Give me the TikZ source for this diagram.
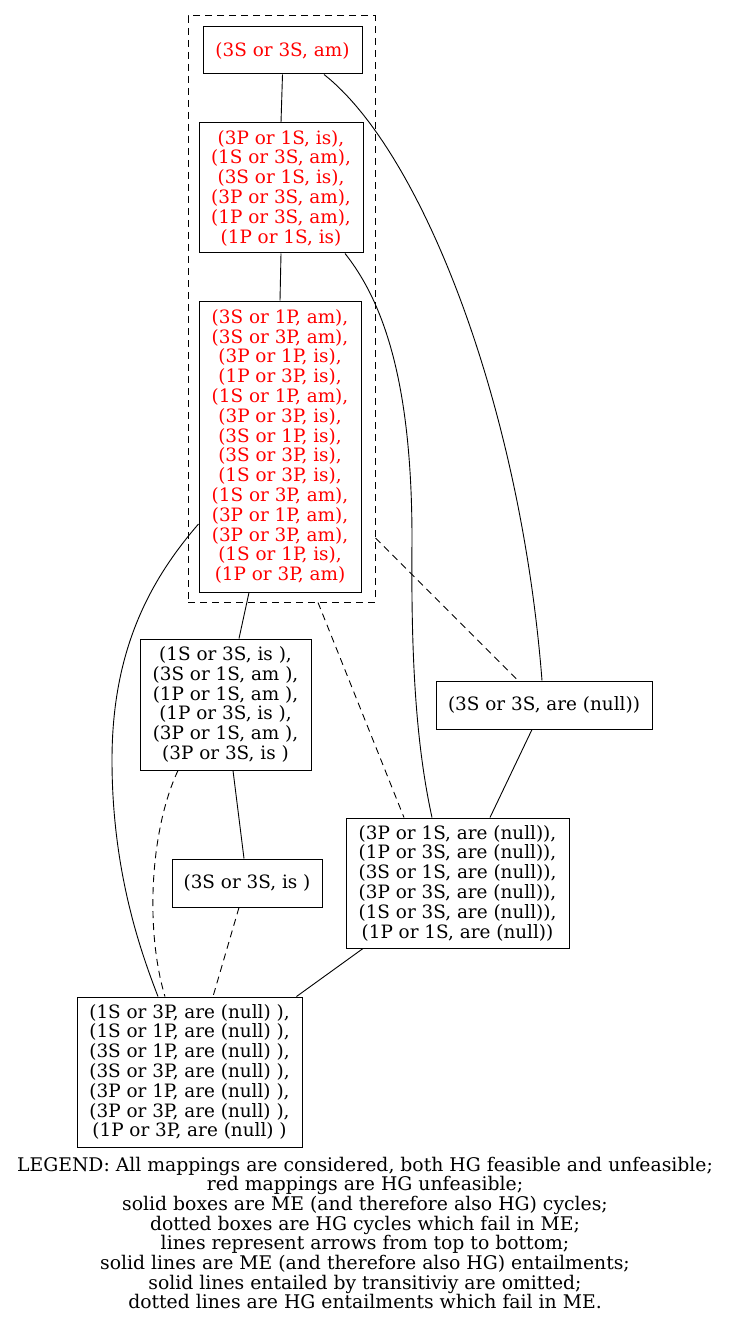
\documentclass[tikz,border=0pt]{standalone}
\usepackage{fontspec}
\setmainfont{DejaVu Serif}
\begin{document}
\begin{tikzpicture}[x=1pt,y=-1pt,
  txt/.style={font=\fontsize{18.4}{19.8}\selectfont},
  box/.style={txt, draw, line width=1pt, inner sep=0pt, align=center},
  redbox/.style={box, text=red},
  edge/.style={line width=0.9pt},
  dedge/.style={edge, dash pattern=on 7pt off 5pt}]
\useasboundingbox (0,0) rectangle (729,1324);
\node[draw, dash pattern=on 7pt off 5pt, line width=1pt, minimum width=187pt, minimum height=586pt, inner sep=0pt] (cl) at (281.5,309) {};
\node[redbox, minimum width=159pt, minimum height=47pt] (b1) at (282.5,50.5) {(3S or 3S, am)};
\node[redbox, minimum width=164pt, minimum height=130pt] (b2) at (281,188) {(3P or 1S, is),\\(1S or 3S, am),\\(3S or 1S, is),\\(3P or 3S, am),\\(1P or 3S, am),\\(1P or 1S, is)};
\node[redbox, minimum width=162pt, minimum height=291pt] (b3) at (280,446.5) {(3S or 1P, am),\\(3S or 3P, am),\\(3P or 1P, is),\\(1P or 3P, is),\\(1S or 1P, am),\\(3P or 3P, is),\\(3S or 1P, is),\\(3S or 3P, is),\\(1S or 3P, is),\\(1S or 3P, am),\\(3P or 1P, am),\\(3P or 3P, am),\\(1S or 1P, is),\\(1P or 3P, am)};
\node[box, minimum width=171pt, minimum height=131pt] (b4) at (225.5,704.5) {(1S or 3S, is ),\\(3S or 1S, am ),\\(1P or 1S, am ),\\(1P or 3S, is ),\\(3P or 1S, am ),\\(3P or 3S, is )};
\node[box, minimum width=216pt, minimum height=48pt] (b5) at (544,705) {(3S or 3S, are (null))};
\node[box, minimum width=223pt, minimum height=130pt] (b6) at (457.5,883) {(3P or 1S, are (null)),\\(1P or 3S, are (null)),\\(3S or 1S, are (null)),\\(3P or 3S, are (null)),\\(1S or 3S, are (null)),\\(1P or 1S, are (null))};
\node[box, minimum width=150pt, minimum height=48pt] (b7) at (247,883) {(3S or 3S, is )};
\node[box, minimum width=225pt, minimum height=150pt] (b8) at (189.5,1072) {(1S or 3P, are (null) ),\\(1S or 1P, are (null) ),\\(3S or 1P, are (null) ),\\(3S or 3P, are (null) ),\\(3P or 1P, are (null) ),\\(3P or 3P, are (null) ),\\(1P or 3P, are (null) )};
\node[font=\fontsize{18.8}{19.7}\selectfont, align=center, inner sep=0pt] (legend) at (365,1233) {LEGEND: All mappings are considered, both HG feasible and unfeasible;\\red mappings are HG unfeasible;\\solid boxes are ME (and therefore also HG) cycles;\\dotted boxes are HG cycles which fail in ME;\\lines represent arrows from top to bottom;\\solid lines are ME (and therefore also HG) entailments;\\solid lines entailed by transitiviy are omitted;\\dotted lines are HG entailments which fail in ME.};
\draw[edge] (b1.south) -- (b2.north);
\draw[edge] ([xshift=41.5pt]b1.south) .. controls (420,150) and (520,400) .. ([xshift=-2pt]b5.north);
\draw[edge] ([xshift=64pt]b2.south) .. controls (390,310) and (412,400) .. (412,540) .. controls (411,650) and (415,740) .. ([xshift=-25.5pt]b6.north);
\draw[edge] (b2.south) -- (b3.north);
\draw[edge] ([xshift=-31pt]b3.south) -- ([xshift=13.5pt]b4.north);
\draw[edge] ([yshift=-77.5pt]b3.west) .. controls (150,580) and (112,650) .. (112,760) .. controls (112,870) and (140,950) .. ([xshift=-31.5pt]b8.north);
\draw[dedge] ([yshift=-229pt]cl.east) -- ([xshift=-26pt]b5.north);
\draw[dedge] ([xshift=36.5pt]cl.south) -- ([xshift=-53.5pt]b6.north);
\draw[dedge] ([xshift=-47.5pt]b4.south) .. controls (150,830) and (145,930) .. ([xshift=-24.5pt]b8.north);
\draw[edge] ([xshift=7.5pt]b4.south) -- ([xshift=-3pt]b7.north);
\draw[edge] ([xshift=-12pt]b5.south) -- ([xshift=32.5pt]b6.north);
\draw[dedge] ([xshift=-8pt]b7.south) -- ([xshift=23.5pt]b8.north);
\draw[edge] ([xshift=-94.5pt]b6.south) -- ([xshift=107pt]b8.north);
\end{tikzpicture}
\end{document}
